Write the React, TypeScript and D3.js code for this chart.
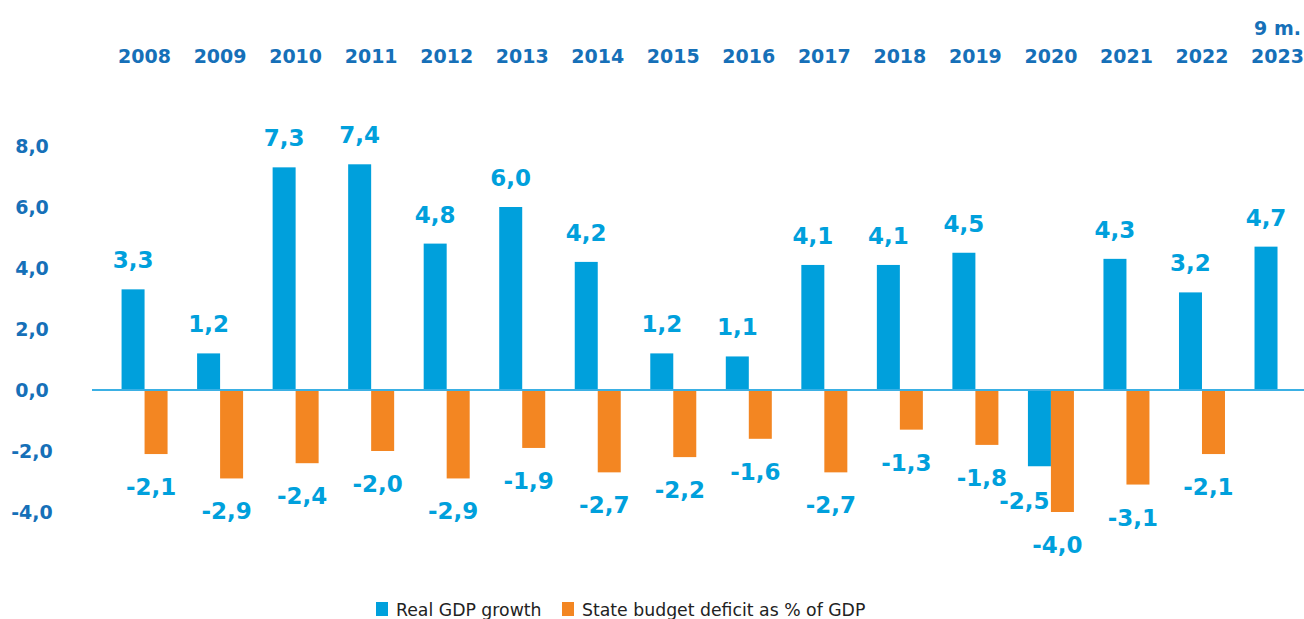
import React from "react";
import * as d3 from "d3";

const categories = ["2008","2009","2010","2011","2012","2013","2014","2015","2016","2017","2018","2019","2020","2021","2022","2023"];
const topLines = ["","","","","","","","","","","","","","","","9 m."];
const gdpGrowth = [3.3,1.2,7.3,7.4,4.8,6.0,4.2,1.2,1.1,4.1,4.1,4.5,-2.5,4.3,3.2,4.7];
const budgetDeficit: (number | null)[] = [-2.1,-2.9,-2.4,-2.0,-2.9,-1.9,-2.7,-2.2,-1.6,-2.7,-1.3,-1.8,-4.0,-3.1,-2.1,null];
const yTicks = [8,6,4,2,0,-2,-4];
const seriesNames = ["Real GDP growth","State budget deficit as % of GDP"];

const W = 1304, H = 619;
const BLUE = "#00a0dc";
const ORANGE = "#f38622";
const AXIS_TXT = "#1670b8";
const FONT = "'DejaVu Sans', sans-serif";

const fmt = (v: number) => v.toFixed(1).replace(".", ",");

export default function App() {
  const xb = d3.scaleBand<string>().domain(categories).range([106.8, 106.8 + 75.53 * 16]);
  const y = d3.scaleLinear().domain([0, 8]).range([390, 146]);
  const bw = 23;

  return (
    <svg width={W} height={H} style={{ position: "absolute", left: 0, top: 0, background: "#fff" }} fontFamily={FONT}>
      {/* y axis labels */}
      {yTicks.map((t) => (
        <text key={t} x={32} y={y(t)} dy="0.36em" textAnchor="middle" fontSize={19} fontWeight="bold" fill={AXIS_TXT}>
          {fmt(t)}
        </text>
      ))}
      {/* category labels */}
      {categories.map((c, i) => {
        const cx = xb(c)! + xb.bandwidth() / 2;
        return (
          <g key={c}>
            {topLines[i] && (
              <text x={cx} y={35} textAnchor="middle" fontSize={19} fontWeight="bold" fill={AXIS_TXT}>{topLines[i]}</text>
            )}
            <text x={cx} y={63} textAnchor="middle" fontSize={19} fontWeight="bold" fill={AXIS_TXT}>{c}</text>
          </g>
        );
      })}
      {/* bars */}
      {categories.map((c, i) => {
        const cx = xb(c)! + xb.bandwidth() / 2;
        const g = gdpGrowth[i];
        const d = budgetDeficit[i];
        return (
          <g key={c}>
            <rect x={cx - bw} y={Math.min(y(g), y(0))} width={bw} height={Math.abs(y(g) - y(0))} fill={BLUE} />
            {d !== null && (
              <rect x={cx} y={y(0)} width={bw} height={Math.abs(y(d) - y(0))} fill={ORANGE} />
            )}
          </g>
        );
      })}
      {/* zero line */}
      <line x1={92} x2={W} y1={y(0)} y2={y(0)} stroke="#3bb0e4" strokeWidth={2} />
      {/* value labels */}
      {categories.map((c, i) => {
        const cx = xb(c)! + xb.bandwidth() / 2;
        const g = gdpGrowth[i];
        const d = budgetDeficit[i];
        return (
          <g key={c} fontSize={23} fontWeight="bold" fill={BLUE} textAnchor="middle">
            {g >= 0 ? (
              <text x={cx - bw / 2} y={y(g) - 21}>{fmt(g)}</text>
            ) : (
              <text x={cx - bw / 2 - 15} y={y(g) + 43}>{fmt(g)}</text>
            )}
            {d !== null && <text x={cx + bw / 2 - 5} y={y(d) + 41}>{fmt(d)}</text>}
          </g>
        );
      })}
      {/* legend */}
      <g fontSize={17.3} fill="#222">
        <rect x={376} y={602} width={12} height={14} fill={BLUE} />
        <text x={396} y={616}>{seriesNames[0]}</text>
        <rect x={562} y={602} width={12} height={14} fill={ORANGE} />
        <text x={582} y={616}>{seriesNames[1]}</text>
      </g>
    </svg>
  );
}
